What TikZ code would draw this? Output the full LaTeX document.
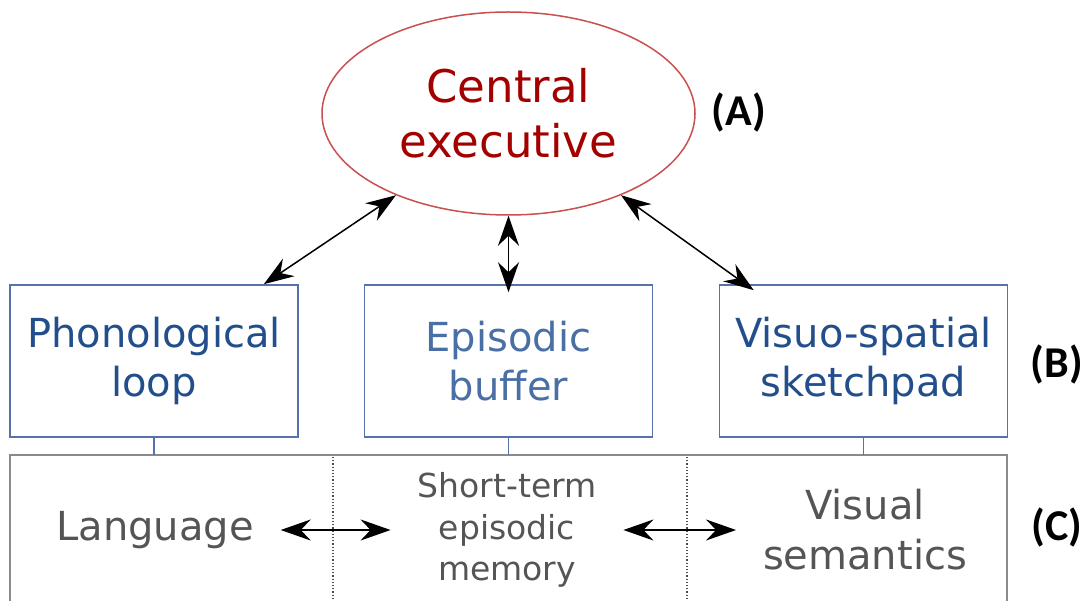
\documentclass[tikz,border=0pt]{standalone}
\usepackage{fontspec}
\setmainfont{DejaVu Sans}
\newfontfamily\labfont{Carlito}
\usetikzlibrary{shapes.geometric}
\usetikzlibrary{arrows.meta}
\usetikzlibrary{positioning}
\definecolor{cered}{HTML}{A30000}
\definecolor{ceborder}{HTML}{C8504F}
\definecolor{boxblue}{HTML}{5573A8}
\definecolor{txtblue}{HTML}{224F8C}
\definecolor{ebblue}{HTML}{4A6FA5}
\definecolor{memgray}{HTML}{555555}
\definecolor{memborder}{HTML}{8A8A8A}
\tikzset{
    slave/.style={draw=boxblue, line width=1.6pt, minimum width=288pt, minimum height=152pt,
        align=center, text=txtblue, font=\fontsize{40}{49}\selectfont},
    memtext/.style={align=center, text=memgray, inner sep=0pt, outer sep=27pt,
        font=\fontsize{40}{50}\selectfont},
    link/.style={{Stealth[length=30pt,width=21pt,inset=10pt]}-{Stealth[length=30pt,width=21pt,inset=10pt]}, line width=1.5pt},
    tag/.style={font=\labfont\bfseries\fontsize{44}{44}\selectfont}
}

\begin{document}
\begin{tikzpicture}[x=1pt, y=-1pt]
        \useasboundingbox (0,0) rectangle (1091,601);
        % (A) central executive
        \node[ellipse, draw=ceborder, line width=1.5pt, minimum width=373pt, minimum height=203pt,
            align=center, text=cered, font=\fontsize{45}{55}\selectfont] (ce) at (508.5,113.5) {Central\\executive};
        % (B) slave systems
        \node[slave] (pl) at (154,361) {Phonological\\loop};
        \node[slave, text=ebblue] (eb) at (508.5,361) {Episodic\\buffer};
        \node[slave] (vs) at (863.5,361) {Visuo-spatial\\sketchpad};
        \draw[link] (ce.216) -- ([xshift=-35pt]pl.north east);
        \draw[link] (ce.south) -- ([yshift=-8pt]eb.north);
        \draw[link] (ce.324) -- ([xshift=35pt, yshift=-6pt]vs.north west);
        % (C) long-term memory
        \coordinate (mem) at (10,455);
        \draw[memborder, line width=1.6pt] (10,601) -- (mem) -- (1007,455) -- (1007,601);
        \draw[dotted, black!70, line width=1.2pt] (333,457) -- (333,601);
        \draw[dotted, black!70, line width=1.2pt] (687,457) -- (687,601);
        \foreach \s in {pl,eb,vs}
            \draw[boxblue, line width=1.6pt] (\s.south) -- (\s.south |- mem);
        \node[memtext] (lang) at (155,530) {Language};
        \node[memtext, font=\fontsize{33}{41.5}\selectfont] (stm) at (507,530) {Short-term\\episodic\\memory};
        \node[memtext] (vsem) at (865,530) {Visual\\semantics};
        \draw[link] (lang.east) -- (stm.west);
        \draw[link] (stm.east) -- (vsem.west);
        % labels
        \node[tag] (ta) at (739,113) {(A)};
        \node[tag] (tb) at (1057,365) {(B)};
        \node[tag] (tc) at (1057,527) {(C)};
    \end{tikzpicture}
\end{document}
